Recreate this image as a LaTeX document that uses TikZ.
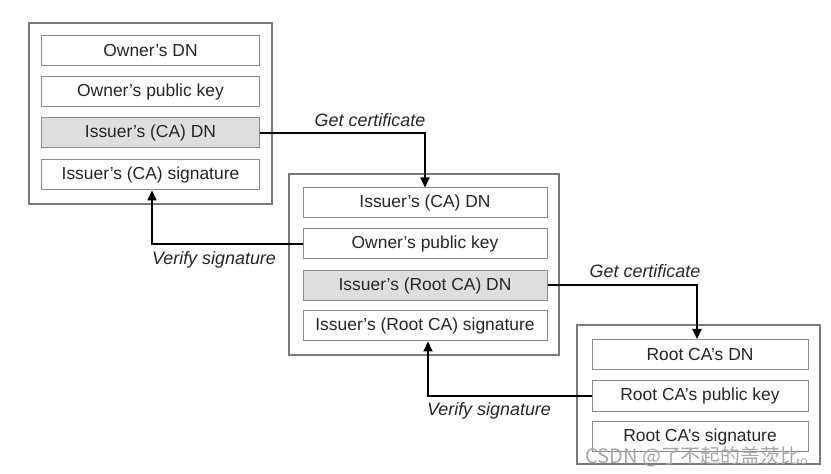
\documentclass[tikz,border=0pt]{standalone}
\usepackage{fontspec}
\setmainfont{Liberation Sans}
\newfontfamily\cjkfont{Noto Sans CJK SC}
\usetikzlibrary{arrows.meta}
\definecolor{boxgray}{HTML}{7A7A7A}
\definecolor{fieldgray}{HTML}{8C8C8C}
\definecolor{shade}{HTML}{DEDEDE}
\begin{document}
\begin{tikzpicture}[x=1bp,y=-1bp,
  outerbox/.style={draw=boxgray,line width=1.1bp,inner sep=0pt},
  field/.style={draw=fieldgray,line width=1bp,fill=white,inner sep=0pt,minimum height=30bp,text=black!85,font=\fontsize{17.5}{19}\selectfont},
  shaded/.style={field,fill=shade},
  flow/.style={line width=2bp,-{Triangle[length=10bp,width=9bp]}},
  lbl/.style={text=black!85,font=\fontsize{18}{20}\selectfont\itshape}]
\useasboundingbox (0,0) rectangle (831,474);
% outer boxes
\node[outerbox,minimum width=243bp,minimum height=181bp] (b1) at (150.5,113.5) {};
\node[outerbox,minimum width=270bp,minimum height=181bp] (b2) at (424,264.5) {};
\node[outerbox,minimum width=243bp,minimum height=139bp] (b3) at (698.5,394.5) {};
% box 1 fields
\node[field,minimum width=217bp] (f11) at (150.5,51) {Owner’s DN};
\node[field,minimum width=217bp] (f12) at (150.5,92) {Owner’s public key};
\node[shaded,minimum width=217bp] (f13) at (150.5,133) {Issuer’s (CA) DN};
\node[field,minimum width=217bp] (f14) at (150.5,175) {Issuer’s (CA) signature};
% box 2 fields
\node[field,minimum width=244bp] (f21) at (425,203) {Issuer’s (CA) DN};
\node[field,minimum width=244bp] (f22) at (425,244) {Owner’s public key};
\node[shaded,minimum width=244bp] (f23) at (425,285.5) {Issuer’s (Root CA) DN};
\node[field,minimum width=244bp] (f24) at (425,326) {Issuer’s (Root CA) signature};
% box 3 fields
\node[field,minimum width=216bp] (f31) at (700,354.5) {Root CA’s DN};
\node[field,minimum width=216bp] (f32) at (700,396) {Root CA’s public key};
\node[field,minimum width=216bp] (f33) at (700,436.5) {Root CA’s signature};
% connectors
\draw[flow] (f13.east) -| (f21.north);
\draw[flow] (f22.west) -| ([xshift=1.5bp]f14.south);
\draw[flow] (f23.east) -| ([xshift=-3bp]f31.north);
\draw[flow] (f32.west) -| ([xshift=3bp]f24.south);
% labels
\node[lbl] (l1) at (370,120) {Get certificate};
\node[lbl] (l2) at (214,260) {Verify signature};
\node[lbl] (l3) at (645,271) {Get certificate};
\node[lbl] (l4) at (489,411) {Verify signature};
% watermark
\node[font=\cjkfont\fontsize{20}{22}\selectfont,text=gray!70] (wm) at (703,457) {CSDN @了不起的盖茨比。};
\end{tikzpicture}
\end{document}
